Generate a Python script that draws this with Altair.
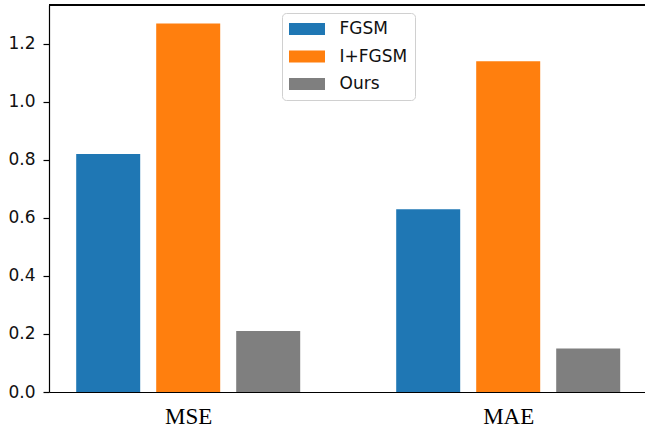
import altair as alt
import pandas as pd

metrics = ["MSE", "MAE"]
methods = ["FGSM", "I+FGSM", "Ours"]
colors = ["#1f77b4", "#ff7f0e", "#7f7f7f"]
mse_values = [0.82, 1.27, 0.21]
mae_values = [0.63, 1.14, 0.15]
y_ticks = [0.0, 0.2, 0.4, 0.6, 0.8, 1.0, 1.2]

rows = []
for gi, (metric, vals) in enumerate(zip(metrics, [mse_values, mae_values])):
    for mi, (method, v) in enumerate(zip(methods, vals)):
        rows.append({"metric": metric, "g": gi, "m": mi, "method": method, "value": v})
df = pd.DataFrame(rows)

x_scale = alt.Scale(domain=[-0.435, 1.4275], nice=False, zero=False)
y_scale = alt.Scale(domain=[0, 1.3335], nice=False)

bars = alt.Chart(df).transform_calculate(
    x1="datum.g + (datum.m - 1) * 0.25 - 0.1",
    x2="datum.g + (datum.m - 1) * 0.25 + 0.1",
).mark_bar().encode(
    x=alt.X("x1:Q", scale=x_scale, title=None,
            axis=alt.Axis(values=[0, 1], labelExpr="datum.value == 0 ? 'MSE' : 'MAE'",
                          ticks=False, grid=False, domainColor="black", domainWidth=1.2,
                          labelFont="Liberation Serif", labelFontSize=23, labelColor="black",
                          labelPadding=13)),
    x2="x2:Q",
    y=alt.Y("value:Q", scale=y_scale, title=None,
            axis=alt.Axis(values=y_ticks, format=".1f", grid=False, tickSize=6,
                          tickColor="black", tickWidth=1.2, domainColor="black", domainWidth=1.2,
                          labelFont="DejaVu Sans", labelFontSize=17, labelColor="#111",
                          labelPadding=8)),
    y2=alt.datum(0),
    color=alt.Color("method:N", scale=alt.Scale(domain=methods, range=colors), title=None,
                    legend=alt.Legend(orient="none", legendX=233, legendY=8,
                                      symbolType="M-3,-1H3V1H-3Z", symbolSize=144,
                                      symbolOffset=9, labelOffset=24,
                                      symbolStrokeWidth=0, symbolOpacity=1,
                                      labelFont="DejaVu Sans", labelFontSize=17, labelColor="#111",
                                      rowPadding=9.5, padding=7.5,
                                      strokeColor="#d0d0d0", fillColor="white",
                                      cornerRadius=4)),
)

top_spine = alt.Chart(df).mark_rule(color="black", strokeWidth=1.2).encode(
    y=alt.value(0)
)

chart = alt.layer(bars, top_spine).properties(
    width=596, height=387,
    autosize=alt.AutoSizeParams(type="none"),
    padding={"left": 49, "top": 5, "right": 0, "bottom": 36},
).configure_view(stroke=None)

chart.save("out.html", embed_options={"renderer": "svg", "actions": False})
